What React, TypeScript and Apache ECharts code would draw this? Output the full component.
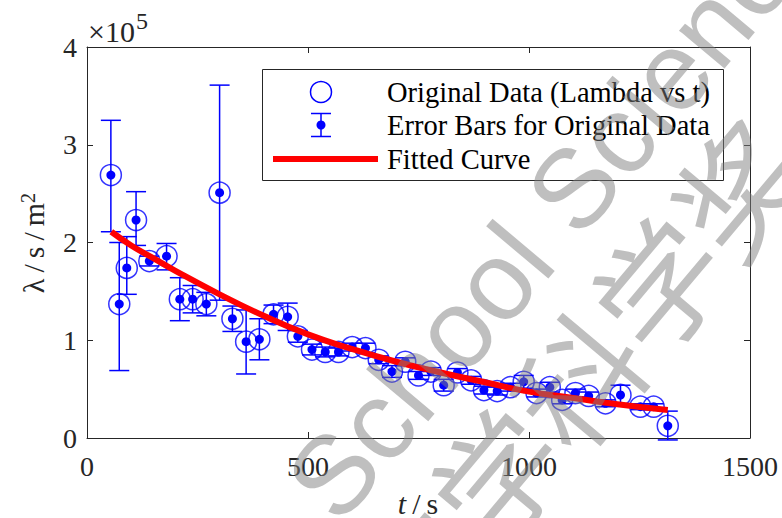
import React, { useEffect, useRef } from "react";
import * as echarts from "echarts";

// ---- data (lambda values in units of 1e5 s/m^2) ----
const tValues = [54, 73, 90, 111, 141, 180, 210, 239, 270, 300, 329, 360, 390, 422, 454, 477, 509, 539, 569, 600, 630, 660, 690, 720, 750, 778, 807, 838, 869, 898, 928, 958, 988, 1017, 1047, 1075, 1105, 1135, 1173, 1207, 1252, 1282, 1314];
const lambdaE5 = [2.69, 1.37, 1.74, 2.23, 1.81, 1.86, 1.42, 1.42, 1.37, 2.51, 1.22, 0.985, 1.01, 1.265, 1.24, 1.04, 0.905, 0.88, 0.88, 0.93, 0.92, 0.8, 0.68, 0.78, 0.64, 0.68, 0.54, 0.67, 0.59, 0.49, 0.48, 0.52, 0.575, 0.46, 0.52, 0.39, 0.46, 0.43, 0.355, 0.44, 0.32, 0.32, 0.125];
const errLowE5 = [2.11, 0.69, 1.47, 1.97, 1.76, 1.72, 1.2, 1.28, 1.25, 1.41, 1.09, 0.655, 0.8, 1.17, 1.1, 0.98, 0.85, 0.83, 0.84, 0.89, 0.87, 0.76, 0.62, 0.74, 0.6, 0.64, 0.48, 0.63, 0.55, 0.45, 0.44, 0.48, 0.51, 0.42, 0.47, 0.35, 0.42, 0.39, 0.32, 0.35, 0.29, 0.29, -0.02];
const errHighE5 = [3.25, 2.0, 2.06, 2.52, 1.86, 1.99, 1.64, 1.56, 1.49, 3.61, 1.35, 1.31, 1.22, 1.36, 1.38, 1.1, 0.96, 0.93, 0.92, 0.97, 0.97, 0.84, 0.74, 0.82, 0.68, 0.72, 0.6, 0.71, 0.63, 0.53, 0.52, 0.56, 0.64, 0.5, 0.57, 0.43, 0.5, 0.47, 0.39, 0.54, 0.35, 0.35, 0.275];
const fitT = [55, 100, 150, 200, 300, 400, 500, 600, 700, 800, 900, 1000, 1100, 1200, 1314];
const fitE5 = [2.11, 1.97, 1.84, 1.71, 1.47, 1.25, 1.06, 0.91, 0.78, 0.67, 0.57, 0.474, 0.41, 0.345, 0.286];
const xTicks = [0, 500, 1000, 1500];
const yTicksE5 = [0, 1, 2, 3, 4];
const legendNames = ["Original Data (Lambda vs t)", "Error Bars for Original Data", "Fitted Curve"];

const SCALE = 1e5;
const BLUE = "#0000FF";
const RED = "#FF0000";
const AX = "#262626";
const SERIF = "Liberation Serif";

export default function App() {
  const ref = useRef<HTMLDivElement>(null);
  useEffect(() => {
    document.body.style.margin = "0";
    if (!ref.current) return;
    const chart = echarts.init(ref.current, null, { renderer: "svg" });

    const errData = tValues.map((t, i) => [t, errLowE5[i] * SCALE, errHighE5[i] * SCALE, lambdaE5[i] * SCALE]);
    const ptData = tValues.map((t, i) => [t, lambdaE5[i] * SCALE]);
    const fitData = fitT.map((t, i) => [t, fitE5[i] * SCALE]);

    const xMin = xTicks[0], xMax = xTicks[xTicks.length - 1], xInt = xTicks[1] - xTicks[0];
    const yMin = yTicksE5[0] * SCALE, yMax = yTicksE5[yTicksE5.length - 1] * SCALE, yInt = (yTicksE5[1] - yTicksE5[0]) * SCALE;

    const axisCommon = {
      type: "value" as const,
      axisLine: { show: true, onZero: false, lineStyle: { color: AX, width: 1 } },
      axisTick: { show: true, inside: true, length: 6, lineStyle: { color: AX, width: 1 } },
      splitLine: { show: false },
    };
    const labelStyle = { fontFamily: SERIF, fontSize: 28, color: AX };

    const lineSt = { stroke: BLUE, lineWidth: 1.5 };
    const legendX = 321;
    const rows = [92, 125, 159];

    chart.setOption({
      animation: false,
      backgroundColor: "#ffffff",
      grid: { left: 87, right: 32, top: 47, bottom: 80, containLabel: false },
      xAxis: [
        { ...axisCommon, min: xMin, max: xMax, interval: xInt, position: "bottom",
          axisLabel: { ...labelStyle, margin: 14, formatter: (v: number) => String(v) } },
        { ...axisCommon, min: xMin, max: xMax, interval: xInt, position: "top", axisLabel: { show: false } },
      ],
      yAxis: [
        { ...axisCommon, min: yMin, max: yMax, interval: yInt, position: "left",
          axisLabel: { ...labelStyle, margin: 10, formatter: (v: number) => String(v / SCALE) } },
        { ...axisCommon, min: yMin, max: yMax, interval: yInt, position: "right", axisLabel: { show: false } },
      ],
      series: [
        {
          name: legendNames[1],
          type: "custom",
          z: 2,
          clip: false,
          data: errData,
          encode: { x: 0, y: [1, 2] },
          renderItem: (params: any, api: any) => {
            const x = api.value(0);
            const pLo = api.coord([x, api.value(1)]);
            const pHi = api.coord([x, api.value(2)]);
            const pV = api.coord([x, api.value(3)]);
            const cap = 10;
            return {
              type: "group",
              children: [
                { type: "line", shape: { x1: pLo[0], y1: pLo[1], x2: pHi[0], y2: pHi[1] }, style: lineSt },
                { type: "line", shape: { x1: pLo[0] - cap, y1: pLo[1], x2: pLo[0] + cap, y2: pLo[1] }, style: lineSt },
                { type: "line", shape: { x1: pHi[0] - cap, y1: pHi[1], x2: pHi[0] + cap, y2: pHi[1] }, style: lineSt },
                { type: "circle", shape: { cx: pV[0], cy: pV[1], r: 4.5 }, style: { fill: BLUE } },
              ],
            };
          },
        },
        {
          name: legendNames[0],
          type: "scatter",
          z: 3,
          symbol: "circle",
          symbolSize: 21,
          data: ptData,
          itemStyle: { color: "rgba(0,0,0,0)", borderColor: BLUE, borderWidth: 1.5 },
        },
        {
          name: legendNames[2],
          type: "line",
          z: 4,
          smooth: true,
          showSymbol: false,
          symbol: "none",
          data: fitData,
          lineStyle: { color: RED, width: 6 },
        },
      ],
      graphic: [
        // x10^5 exponent
        {
          type: "text", x: 88, y: 31, z: 10,
          style: {
            text: "×10", align: "left", textAlign: "left", verticalAlign: "middle", textVerticalAlign: "middle",
            fill: AX, fontFamily: SERIF, fontSize: 30,
          },
        },
        {
          type: "text", x: 136, y: 21, z: 10,
          style: {
            text: "5", align: "left", textAlign: "left", verticalAlign: "middle", textVerticalAlign: "middle",
            fill: AX, fontFamily: SERIF, fontSize: 24,
          },
        },
        // y-axis name
        {
          type: "text", x: 33, y: 243, rotation: Math.PI / 2, z: 10,
          style: {
            text: "{n|λ\u2009/\u2009s\u2009/\u2009m}{s|2}", align: "center", textAlign: "center",
            verticalAlign: "middle", textVerticalAlign: "middle", fill: AX,
            rich: {
              n: { fontFamily: SERIF, fontSize: 30, fill: AX },
              s: { fontFamily: SERIF, fontSize: 20, fill: AX, verticalAlign: "top" },
            },
          },
        },
        // x-axis name
        {
          type: "text", x: 418, y: 503, z: 10,
          style: {
            text: "{i|t}{n|\u2009/\u2009s}", align: "center", textAlign: "center",
            verticalAlign: "middle", textVerticalAlign: "middle", fill: AX,
            rich: {
              i: { fontFamily: SERIF, fontSize: 30, fontStyle: "italic", fill: AX },
              n: { fontFamily: SERIF, fontSize: 30, fill: AX },
            },
          },
        },
        // legend
        {
          type: "group", z: 20,
          children: [
            { type: "rect", shape: { x: 262.5, y: 69.5, width: 461, height: 111 }, style: { fill: "#ffffff", stroke: AX, lineWidth: 1 } },
            { type: "circle", shape: { cx: legendX, cy: rows[0], r: 10.5 }, style: { fill: "none", stroke: BLUE, lineWidth: 1.5 } },
            { type: "line", shape: { x1: legendX, y1: rows[1] - 11.5, x2: legendX, y2: rows[1] + 11.5 }, style: lineSt },
            { type: "line", shape: { x1: legendX - 10, y1: rows[1] - 11.5, x2: legendX + 10, y2: rows[1] - 11.5 }, style: lineSt },
            { type: "line", shape: { x1: legendX - 10, y1: rows[1] + 11.5, x2: legendX + 10, y2: rows[1] + 11.5 }, style: lineSt },
            { type: "circle", shape: { cx: legendX, cy: rows[1], r: 4.5 }, style: { fill: BLUE } },
            { type: "line", shape: { x1: 273, y1: rows[2], x2: 378, y2: rows[2] }, style: { stroke: RED, lineWidth: 6 } },
            ...legendNames.map((name, i) => ({
              type: "text", x: 387, y: rows[i],
              style: {
                text: name, align: "left", textAlign: "left", verticalAlign: "middle", textVerticalAlign: "middle",
                fill: "#000000", fontFamily: SERIF, fontSize: 28.5,
              },
            })),
          ],
        },
        // watermark
        {
          type: "text", x: 558, y: 207, rotation: (50 * Math.PI) / 180, z: 100, silent: true,
          style: {
            text: "School Science", align: "center", textAlign: "center", verticalAlign: "middle", textVerticalAlign: "middle",
            fill: "rgba(128,128,128,0.5)", fontFamily: "Liberation Sans", fontSize: 112,
          },
        },
        {
          type: "text", x: 454, y: 521, rotation: (50 * Math.PI) / 180, z: 100, silent: true,
          style: {
            text: "丘成桐中学科学奖", align: "center", textAlign: "center", verticalAlign: "middle", textVerticalAlign: "middle",
            fill: "rgba(128,128,128,0.5)", fontFamily: "Noto Sans CJK SC", fontSize: 125,
          },
        },
      ],
    });
    return () => chart.dispose();
  }, []);
  return <div ref={ref} style={{ width: 782, height: 518 }} />;
}
